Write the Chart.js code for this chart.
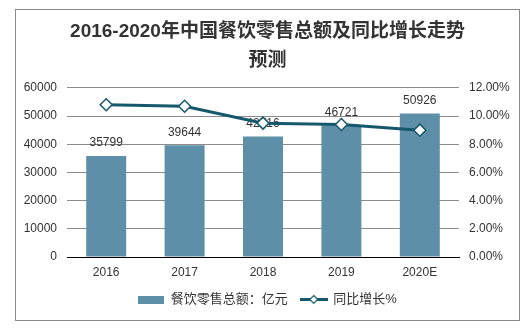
<!DOCTYPE html>
<html>
<head>
<meta charset="utf-8">
<script src="https://cdn.jsdelivr.net/npm/chart.js@4.4.0/dist/chart.umd.min.js"></script>
<style>
  body { margin: 0; background: #fff; }
  #wrap { width: 529px; height: 330px; }
</style>
</head>
<body>
<div id="wrap"><canvas id="grafico" width="529" height="330"></canvas></div>
<script>
// dados
const anos = ["2016", "2017", "2018", "2019", "2020E"];
const totalVarejo = [35799, 39644, 42716, 46721, 50926];
const crescimento = [10.8, 10.7, 9.5, 9.4, 9.0];
const ticksEsquerda = [0, 10000, 20000, 30000, 40000, 50000, 60000];
const ticksDireita = [0, 2, 4, 6, 8, 10, 12];

const corBarra = "#5d8fa8";
const corLinha = "#15586b";
const fonte = "'Liberation Sans', Arial, 'Noto Sans CJK SC', sans-serif";

// amostras para a legenda
function amostraBarra() {
  const c = document.createElement("canvas");
  c.width = 26; c.height = 8;
  const ctx = c.getContext("2d");
  ctx.fillStyle = corBarra;
  ctx.fillRect(0, 0, 26, 8);
  return c;
}
function amostraLinha() {
  const c = document.createElement("canvas");
  c.width = 28; c.height = 11;
  const ctx = c.getContext("2d");
  ctx.strokeStyle = corLinha;
  ctx.lineWidth = 3;
  ctx.beginPath(); ctx.moveTo(0, 5.5); ctx.lineTo(28, 5.5); ctx.stroke();
  ctx.fillStyle = "#fff";
  ctx.lineWidth = 1.2;
  ctx.beginPath();
  ctx.moveTo(14, 1.5); ctx.lineTo(18, 5.5); ctx.lineTo(14, 9.5); ctx.lineTo(10, 5.5);
  ctx.closePath(); ctx.fill(); ctx.stroke();
  return c;
}

// moldura e fundo
const moldura = {
  id: "moldura",
  beforeDraw(chart) {
    const ctx = chart.ctx;
    ctx.save();
    ctx.fillStyle = "#fff";
    ctx.fillRect(0, 0, chart.width, chart.height);
    ctx.strokeStyle = "#8a8a8a";
    ctx.lineWidth = 1;
    ctx.strokeRect(15.5, 9.5, 504, 311);
    ctx.restore();
  }
};

// valores em cima das barras
const rotulos = {
  id: "rotulos",
  afterDatasetDraw(chart, args) {
    if (args.index !== 0) return;
    const ctx = chart.ctx;
    ctx.save();
    ctx.font = "12px " + fonte;
    ctx.fillStyle = "#333";
    ctx.textAlign = "center";
    ctx.textBaseline = "middle";
    args.meta.data.forEach((barra, i) => {
      ctx.fillText(String(totalVarejo[i]), barra.x, barra.y - 13);
    });
    ctx.restore();
  }
};

const grafico = new Chart(document.getElementById("grafico"), {
  type: "bar",
  data: {
    labels: anos,
    datasets: [
      {
        label: "餐饮零售总额：亿元",
        data: totalVarejo,
        backgroundColor: corBarra,
        yAxisID: "y",
        order: 1,
        barPercentage: 0.51,
        categoryPercentage: 1,
      },
      {
        type: "line",
        label: "同比增长%",
        data: crescimento,
        yAxisID: "y1",
        borderColor: corLinha,
        borderWidth: 3,
        pointStyle: "rectRot",
        pointRadius: 6,
        pointBackgroundColor: "#fff",
        pointBorderColor: corLinha,
        pointBorderWidth: 1.5,
        tension: 0,
        order: 0,
      },
    ],
  },
  options: {
    responsive: false,
    animation: false,
    layout: { autoPadding: false, padding: { left: 24, right: 18, top: 0, bottom: 14 } },
    plugins: {
      tooltip: { enabled: false },
      title: {
        display: true,
        text: ["2016-2020年中国餐饮零售总额及同比增长走势", "预测"],
        color: "#333",
        font: { family: fonte, size: 19, weight: "bold", lineHeight: 1.55 },
        padding: { top: 17, bottom: 12 },
      },
      legend: {
        position: "bottom",
        labels: {
          usePointStyle: true,
          pointStyleWidth: 26,
          boxHeight: 8,
          padding: 13,
          color: "#333",
          font: { family: fonte, size: 13 },
          generateLabels() {
            return [
              { text: "餐饮零售总额：亿元", pointStyle: amostraBarra(), datasetIndex: 0, fontColor: "#333", lineWidth: 0 },
              { text: "同比增长%", pointStyle: amostraLinha(), datasetIndex: 1, fontColor: "#333", lineWidth: 0 },
            ];
          },
        },
      },
    },
    scales: {
      x: {
        afterFit(eixo) { eixo.height = 23; },
        grid: { display: false, drawTicks: false },
        border: { display: true, color: "#000", width: 1 },
        ticks: { color: "#333", padding: 8, font: { family: fonte, size: 12 } },
      },
      y: {
        position: "left",
        min: ticksEsquerda[0],
        max: ticksEsquerda[ticksEsquerda.length - 1],
        afterBuildTicks(eixo) { eixo.ticks = ticksEsquerda.map(v => ({ value: v })); },
        afterFit(eixo) { eixo.width = 43; },
        grid: { color: "#8c8c8c", drawTicks: false },
        border: { display: false },
        ticks: {
          color: "#333",
          padding: 10,
          font: { family: fonte, size: 12 },
          callback: v => String(v),
        },
      },
      y1: {
        position: "right",
        min: ticksDireita[0],
        max: ticksDireita[ticksDireita.length - 1],
        afterBuildTicks(eixo) { eixo.ticks = ticksDireita.map(v => ({ value: v })); },
        afterFit(eixo) { eixo.width = 52; },
        grid: { display: false, drawTicks: false },
        border: { display: false },
        ticks: {
          color: "#333",
          padding: 10,
          font: { family: fonte, size: 12 },
          callback: v => v.toFixed(2) + "%",
        },
      },
    },
  },
  plugins: [moldura, rotulos],
});
</script>
</body>
</html>
